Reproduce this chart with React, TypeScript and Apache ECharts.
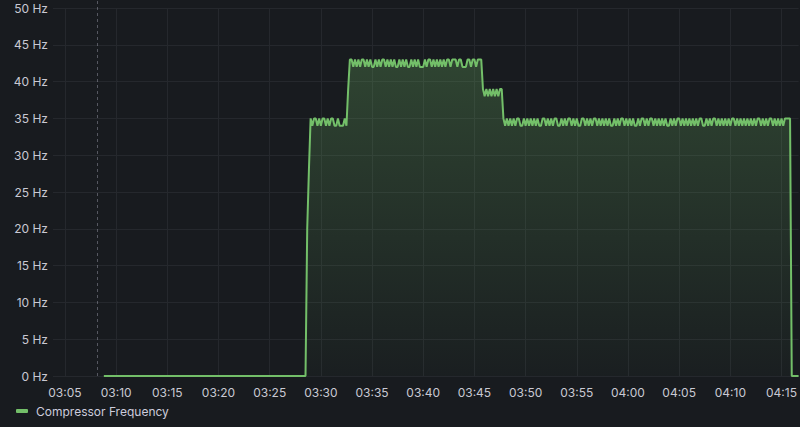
import React, { useEffect, useRef } from "react";
import * as echarts from "echarts";

const DAY = "2024-01-15";
const axisStart = "03:03:50";
const axisEnd = "04:16:40";
const markerTime = "03:08:07";
const seriesName = "Compressor Frequency";

const xTickLabels = [
  "03:05", "03:10", "03:15", "03:20", "03:25", "03:30", "03:35", "03:40",
  "03:45", "03:50", "03:55", "04:00", "04:05", "04:10", "04:15",
];

// idle period (compressor off)
const idle: [string, number][] = [["03:08:48", 0]];

// sampled values every 10 s starting at sampleStart
const sampleStart = "03:28:30";
const sampleStepSec = 10;
const rampValues = [0, 20, 28];
const level35a = [
  35, 34, 35, 35, 34, 35, 34, 35, 35, 34,
  35, 34, 35, 35, 34, 34, 35, 34, 34, 34,
  35, 34,
];
const transitionUp = [39];
const level43 = [
  43, 43, 42, 43, 42, 43, 42, 43, 43, 42,
  43, 42, 43, 42, 42, 43, 42, 43, 42, 43,
  43, 42, 43, 42, 43, 42, 43, 42, 42, 43,
  42, 43, 42, 43, 42, 42, 43, 42, 43, 42,
  43, 42, 42, 42, 43, 42, 43, 43, 42, 43,
  42, 43, 42, 43, 42, 43, 42, 43, 43, 42,
  43, 43, 43, 42, 43, 43, 42, 42, 42, 43,
  43, 42, 43, 43, 42, 43, 43, 43,
];
const level39 = [39, 38, 39, 38, 39, 38, 39, 38, 39, 38, 39, 39];
const level35b = [
  35, 34, 35, 34, 35, 34, 35, 34, 35, 35,
  34, 34, 35, 34, 35, 34, 35, 34, 35, 34,
  35, 34, 34, 35, 35, 34, 35, 34, 35, 34,
  35, 35, 34, 34, 35, 34, 35, 34, 35, 35,
  34, 35, 34, 35, 34, 34, 35, 35, 34, 35,
  34, 35, 34, 35, 35, 34, 35, 34, 35, 34,
  35, 34, 35, 34, 34, 35, 34, 35, 34, 35,
  35, 34, 35, 34, 35, 34, 35, 34, 34, 35,
  34, 35, 35, 34, 35, 34, 35, 35, 34, 35,
  34, 35, 34, 35, 34, 35, 34, 34, 35, 34,
  35, 34, 35, 35, 34, 35, 34, 35, 34, 35,
  34, 35, 34, 35, 34, 35, 35, 34, 34, 35,
  34, 35, 34, 35, 35, 34, 35, 34, 35, 34,
  35, 34, 35, 34, 35, 35, 34, 35, 34, 35,
  34, 35, 34, 35, 34, 35, 34, 35, 34, 35,
  35, 34, 35, 34, 35, 34, 35, 35, 34, 35,
  34, 35, 34, 35, 34, 35, 35, 35, 35,
];
const shutdownValues = [0, 0, 0, 0, 0];

const yMin = 0;
const yMax = 50;
const yStep = 5;

const ts = (t: string) =>
  new Date(`${DAY}T${t.length === 5 ? t + ":00" : t}`).getTime();
const pad = (n: number) => String(n).padStart(2, "0");

export default function App() {
  const ref = useRef<HTMLDivElement>(null);

  useEffect(() => {
    if (!ref.current) return;
    const chart = echarts.init(ref.current, undefined, { renderer: "svg" });

    const sampled = [
      ...rampValues,
      ...level35a,
      ...transitionUp,
      ...level43,
      ...level39,
      ...level35b,
      ...shutdownValues,
    ];
    const start = ts(sampleStart);
    const data: [number, number][] = [
      ...idle.map(([t, v]) => [ts(t), v] as [number, number]),
      ...sampled.map((v, i) => [start + i * sampleStepSec * 1000, v] as [number, number]),
    ];
    const tickValues = xTickLabels.map(ts);

    const labelColor = "#c9c9d3";
    const gridColor = "#25282d";
    const green = "#73BF69";

    chart.setOption({
      animation: false,
      backgroundColor: "#181b1f",
      textStyle: { fontFamily: "Inter, 'Noto Sans', sans-serif" },
      grid: [
        { left: 53, right: 0, top: 8, bottom: 51 },
        { left: 53, right: 0, top: 0, bottom: 51 },
      ],
      xAxis: [
        {
          type: "value",
          gridIndex: 0,
          min: ts(axisStart),
          max: ts(axisEnd),
          axisLine: { show: false },
          axisTick: { show: false, customValues: tickValues },
          splitLine: { show: true, lineStyle: { color: gridColor, width: 1 } },
          axisLabel: {
            color: labelColor,
            fontSize: 12,
            margin: 10,
            customValues: tickValues,
            hideOverlap: false,
            formatter: (v: number) => {
              const d = new Date(v);
              return `${pad(d.getHours())}:${pad(d.getMinutes())}`;
            },
          },
        },
        {
          type: "value",
          gridIndex: 1,
          min: ts(axisStart),
          max: ts(axisEnd),
          show: false,
        },
      ],
      yAxis: [
        {
          type: "value",
          gridIndex: 0,
          min: yMin,
          max: yMax,
          interval: yStep,
          axisLine: { show: false },
          axisTick: { show: false },
          splitLine: { show: true, lineStyle: { color: gridColor, width: 1 } },
          axisLabel: {
            color: labelColor,
            fontSize: 12,
            margin: 5,
            formatter: "{value} Hz",
          },
        },
        { type: "value", gridIndex: 1, min: 0, max: 1, show: false },
      ],
      legend: {
        data: [{ name: seriesName, icon: "roundRect" }],
        left: 16,
        top: 405,
        padding: 0,
        itemWidth: 12,
        itemHeight: 4,
        textStyle: { color: "#ccccdc", fontSize: 12, padding: [0, 0, 0, 3] },
      },
      series: [
        {
          name: seriesName,
          type: "line",
          data,
          showSymbol: false,
          symbol: "none",
          lineStyle: { color: green, width: 2 },
          itemStyle: { color: green },
          areaStyle: {
            color: new echarts.graphic.LinearGradient(0, 0, 0, 1, [
              { offset: 0, color: "rgba(115,191,105,0.36)" },
              { offset: 1, color: "rgba(115,191,105,0.03)" },
            ]),
          },
        },
        {
          type: "line",
          xAxisIndex: 1,
          yAxisIndex: 1,
          data: [],
          silent: true,
          markLine: {
            symbol: "none",
            silent: true,
            label: { show: false },
            lineStyle: { color: "rgba(204,204,220,0.35)", type: [3, 3], width: 1 },
            data: [{ xAxis: ts(markerTime) }],
          },
        },
      ],
    });

    return () => chart.dispose();
  }, []);

  return (
    <div
      ref={ref}
      style={{ position: "fixed", left: 0, top: 0, width: 800, height: 427 }}
    />
  );
}
